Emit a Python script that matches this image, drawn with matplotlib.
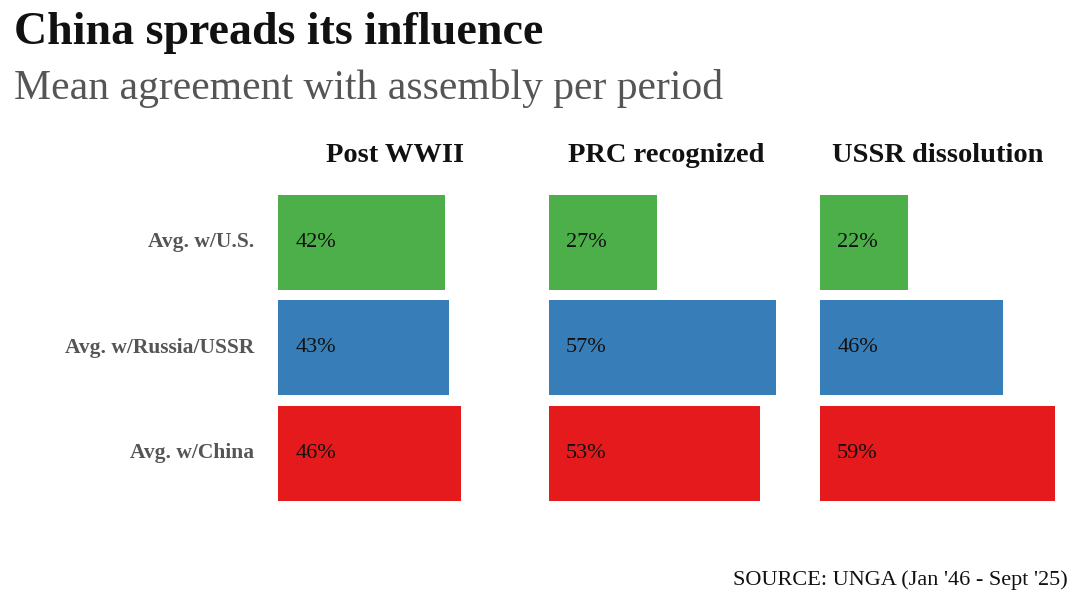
import matplotlib.pyplot as plt

periods = ["Post WWII", "PRC recognized", "USSR dissolution"]
rows = ["Avg. w/U.S.", "Avg. w/Russia/USSR", "Avg. w/China"]
us = [42, 27, 22]
russia = [43, 57, 46]
china = [46, 53, 59]
colors = ["#4daf4a", "#377eb8", "#e41a1c"]

plt.rcParams["font.family"] = ["Liberation Serif", "DejaVu Serif"]

fig = plt.figure(figsize=(10.8, 6.07), dpi=100)
W, H = 1080, 607
lefts = [278, 549, 820]
title_x = [395, 666, 938]
bottom = 1 - 506 / H
height = 316.5 / H

for i, name in enumerate(periods):
    ax = fig.add_axes([lefts[i] / W, bottom, 271 / W, height])
    vals = [us[i], russia[i], china[i]]
    ax.barh(range(3), vals, height=0.9, color=colors)
    for j, v in enumerate(vals):
        ax.text(4.3, j, f"{v}%", va="center", ha="left", fontsize=16, color="#111")
    ax.set_xlim(0, 68)
    ax.set_ylim(2.5, -0.5)
    ax.axis("off")
    fig.text(title_x[i] / W, 1 - 155 / H, name, ha="center", va="center",
             fontsize=20.5, fontweight="bold", color="#111")
    if i == 0:
        for j, r in enumerate(rows):
            ax.text(-6, j, r, ha="right", va="center", fontsize=15.5,
                    fontweight="bold", color="#555")

fig.text(14 / W, 1 - 33 / H, "China spreads its influence", ha="left", va="center",
         fontsize=33, fontweight="bold", color="#111")
fig.text(14 / W, 1 - 89 / H, "Mean agreement with assembly per period", ha="left",
         va="center", fontsize=30, color="#555")
fig.text(1068 / W, 1 - 580 / H, "SOURCE: UNGA (Jan '46 - Sept '25)", ha="right",
         va="center", fontsize=16, color="#111")

fig.savefig("out.png", dpi=100)
